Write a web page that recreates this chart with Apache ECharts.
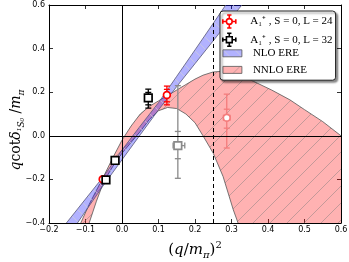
<!DOCTYPE html>
<html><head><meta charset="utf-8">
<script src="https://cdn.jsdelivr.net/npm/echarts@6/dist/echarts.min.js"></script>
<style>html,body{margin:0;padding:0;background:#fff}#c{width:349px;height:262px}</style>
</head><body><div id="c"></div>
<script>
// ---- axis ticks ----
const xTickValues = [-0.2,-0.1,0.0,0.1,0.2,0.3,0.4,0.5,0.6];
const xTickLabels = ['\u22120.2','\u22120.1','0.0','0.1','0.2','0.3','0.4','0.5','0.6'];
const yTickValues = [-0.4,-0.2,0.0,0.2,0.4,0.6];
const yTickLabels = ['\u22120.4','\u22120.2','0.0','0.2','0.4','0.6'];

// ---- NLO ERE band (blue) ----
const blueX  = [-0.2,-0.15,-0.1,-0.05,0,0.05,0.1,0.15,0.2,0.25,0.3,0.35];
const blueLo = [-0.590,-0.468,-0.346,-0.225,-0.110,0.005,0.119,0.226,0.331,0.436,0.541,0.645];
const blueHi = [-0.500,-0.395,-0.290,-0.185,-0.065,0.045,0.152,0.273,0.394,0.516,0.639,0.761];

// ---- NNLO ERE band (red) ----
const redBandX  = [-0.13,-0.113,-0.09,-0.07,-0.05,-0.025,0,0.025,0.05,0.075,0.1,0.125,0.15,0.175,0.2,0.222,0.25,0.277,0.305,0.318,0.33,0.36,0.41,0.46,0.5,0.55,0.6];
const redBandHi = [-0.47,-0.40,-0.315,-0.25,-0.185,-0.10,-0.02,0.045,0.10,0.135,0.16,0.185,0.21,0.235,0.26,0.278,0.293,0.296,0.287,0.281,0.274,0.25,0.21,0.165,0.12,0.065,0.0];
const redBandLo = [-0.6,-0.51,-0.40,-0.30,-0.21,-0.14,-0.08,-0.03,0.02,0.075,0.115,0.13,0.125,0.10,0.06,0.0,-0.08,-0.187,-0.34,-0.40,-0.47,-0.65,-0.95,-1.3,-1.6,-2.0,-2.4];

// ---- lattice points: A1+, L=24 (red) ----
const l24X    = [-0.053, 0.123];
const l24Y    = [-0.199, 0.187];
const l24XLo  = [-0.056, 0.118];
const l24XHi  = [-0.050, 0.128];
const l24YLo  = [-0.207, 0.142];
const l24YHi  = [-0.191, 0.228];
const l24YLoI = [-0.203, 0.156];
const l24YHiI = [-0.195, 0.213];
// faded L=24 point
const l24fX = [0.287], l24fY = [0.083], l24fXLo=[0.278], l24fXHi=[0.296];
const l24fYLo = [-0.056], l24fYHi = [0.191], l24fYLoI = [0.035], l24fYHiI = [0.122];

// ---- lattice points: A1+, L=32 (black) ----
const l32X    = [-0.044, -0.019, 0.072];
const l32Y    = [-0.202, -0.113, 0.174];
const l32XLo  = [-0.047, -0.022, 0.069];
const l32XHi  = [-0.041, -0.016, 0.075];
const l32YLo  = [-0.208, -0.119, 0.127];
const l32YHi  = [-0.196, -0.107, 0.214];
const l32YLoI = [-0.205, -0.116, 0.142];
const l32YHiI = [-0.199, -0.110, 0.199];
// faded L=32 point
const l32fX = [0.153], l32fY = [-0.045], l32fXLo=[0.140], l32fXHi=[0.172];
const l32fYLo = [-0.195], l32fYHi = [0.230], l32fYLoI = [-0.105], l32fYHiI = [0.020];

// ---- reference lines ----
const solidVX = [0.0];
const solidHY = [0.0];
const dashedVX = [0.25];

const S24 = 'A\u2081\u207A , S = 0, L = 24';
const S32 = 'A\u2081\u207A , S = 0, L = 32';

function makePattern(fill, hatch, dir, t) {
  const c = document.createElement('canvas'); c.width = t; c.height = t;
  const g = c.getContext('2d');
  g.fillStyle = fill; g.fillRect(0, 0, t, t);
  g.strokeStyle = hatch; g.lineWidth = 0.8; g.beginPath();
  if (dir > 0) {
    g.moveTo(-1, t + 1); g.lineTo(t + 1, -1);
    g.moveTo(-1, 1); g.lineTo(1, -1);
    g.moveTo(t - 1, t + 1); g.lineTo(t + 1, t - 1);
  } else {
    g.moveTo(-1, -1); g.lineTo(t + 1, t + 1);
    g.moveTo(t - 1, -1); g.lineTo(t + 1, 1);
    g.moveTo(-1, t - 1); g.lineTo(1, t + 1);
  }
  g.stroke();
  return { image: c, repeat: 'repeat' };
}
const redPat = makePattern('rgba(255,0,0,0.3)', 'rgba(120,120,120,0.55)', 1, 17);
const bluePat = makePattern('rgba(0,0,255,0.3)', 'rgba(210,210,210,0.8)', -1, 12);

function bandRender(xs, lo, hi, fill, edge) {
  return function (params, api) {
    if (params.dataIndex !== 0) return;
    const up = xs.map((x, i) => api.coord([x, hi[i]]));
    const dn = xs.map((x, i) => api.coord([x, lo[i]]));
    const poly = up.concat(dn.slice().reverse());
    return { type: 'group', children: [
      { type: 'polygon', shape: { points: poly }, style: { fill: fill, stroke: null } },
      { type: 'polyline', shape: { points: up }, style: { stroke: edge, lineWidth: 0.8, fill: null } },
      { type: 'polyline', shape: { points: dn }, style: { stroke: edge, lineWidth: 0.8, fill: null } }
    ]};
  };
}

function rows(x, y, xl, xh, yl, yh, yli, yhi) {
  return x.map((v, i) => [v, y[i], xl[i], xh[i], yl[i], yh[i], yli[i], yhi[i]]);
}

function errRender(color, shape, lw) {
  return function (params, api) {
    const x = api.value(0), y = api.value(1);
    const c = api.coord([x, y]);
    const pl = api.coord([api.value(2), y]), ph = api.coord([api.value(3), y]);
    const pyl = api.coord([x, api.value(4)]), pyh = api.coord([x, api.value(5)]);
    const pyli = api.coord([x, api.value(6)]), pyhi = api.coord([x, api.value(7)]);
    const cap = 3;
    const st = { stroke: color, lineWidth: lw, fill: null };
    const L = (x1, y1, x2, y2) => ({ type: 'line', shape: { x1, y1, x2, y2 }, style: st });
    const ch = [
      L(pyl[0], pyl[1], pyh[0], pyh[1]),
      L(pyl[0] - cap, pyl[1], pyl[0] + cap, pyl[1]),
      L(pyh[0] - cap, pyh[1], pyh[0] + cap, pyh[1]),
      L(pyli[0] - cap, pyli[1], pyli[0] + cap, pyli[1]),
      L(pyhi[0] - cap, pyhi[1], pyhi[0] + cap, pyhi[1]),
      L(pl[0], pl[1], ph[0], ph[1]),
      L(pl[0], pl[1] - cap, pl[0], pl[1] + cap),
      L(ph[0], ph[1] - cap, ph[0], ph[1] + cap)
    ];
    if (shape === 'circle') {
      ch.push({ type: 'circle', shape: { cx: c[0], cy: c[1], r: 3.4 }, style: { fill: '#fff', stroke: color, lineWidth: 1.7 } });
    } else {
      ch.push({ type: 'rect', shape: { x: c[0] - 3.8, y: c[1] - 3.8, width: 7.6, height: 7.6 }, style: { fill: '#fff', stroke: color, lineWidth: 1.7 } });
    }
    return { type: 'group', children: ch };
  };
}

const tickLabelX = v => { const i = xTickValues.findIndex(t => Math.abs(t - v) < 1e-6); return i >= 0 ? xTickLabels[i] : ''; };
const tickLabelY = v => { const i = yTickValues.findIndex(t => Math.abs(t - v) < 1e-6); return i >= 0 ? yTickLabels[i] : ''; };

const axCommon = {
  axisLine: { show: true, onZero: false, lineStyle: { color: '#000', width: 1 } },
  axisTick: { show: true, inside: true, length: 4, lineStyle: { color: '#000', width: 0.8 } },
  splitLine: { show: false }
};

const serif = 'DejaVu Serif';
const chart = echarts.init(document.getElementById('c'), null, { renderer: 'canvas' });
chart.setOption({
  animation: false,
  backgroundColor: '#fff',
  grid: { left: 49, right: 8, top: 5, bottom: 39, containLabel: false, outerBoundsMode: 'none' },
  xAxis: [
    Object.assign({ type: 'value', min: -0.2, max: 0.6, interval: 0.1, position: 'bottom',
      axisLabel: { formatter: tickLabelX, fontFamily: 'DejaVu Sans', fontSize: 8, color: '#000', margin: 3 },
      name: '{n|(}{i|q}{n|/}{i|m}{s|\u03C0}{n|)}{p|2}', nameLocation: 'middle', nameGap: 17,
      nameTextStyle: { color: '#000', rich: {
        n: { fontFamily: serif, fontSize: 15, lineHeight: 20, color: '#000' },
        i: { fontFamily: serif, fontStyle: 'italic', fontSize: 15, lineHeight: 20, color: '#000' },
        s: { fontFamily: serif, fontStyle: 'italic', fontSize: 10, lineHeight: 10, verticalAlign: 'bottom', color: '#000' },
        p: { fontFamily: serif, fontSize: 10, lineHeight: 10, verticalAlign: 'top', color: '#000' }
      } } }, axCommon),
    Object.assign({ type: 'value', min: -0.2, max: 0.6, interval: 0.1, position: 'top', axisLabel: { show: false } }, axCommon)
  ],
  yAxis: [
    Object.assign({ type: 'value', min: -0.4, max: 0.6, interval: 0.2, position: 'left',
      axisLabel: { formatter: tickLabelY, fontFamily: 'DejaVu Sans', fontSize: 8, color: '#000', margin: 4 } }, axCommon),
    Object.assign({ type: 'value', min: -0.4, max: 0.6, interval: 0.2, position: 'right', axisLabel: { show: false } }, axCommon)
  ],
  graphic: [
    { type: 'text', x: 16, y: 130, rotation: Math.PI / 2, silent: true,
      style: { text: '{i|q}{n|cot}{i|\u03B4}{s|\u00B9S\u2080}{n| /}{i|m}{s|\u03C0}', align: 'center', verticalAlign: 'middle',
        rich: {
          n: { fontFamily: serif, fontSize: 14, lineHeight: 20, fill: '#000' },
          i: { fontFamily: serif, fontStyle: 'italic', fontSize: 14, lineHeight: 20, fill: '#000' },
          s: { fontFamily: serif, fontStyle: 'italic', fontSize: 9, lineHeight: 10, verticalAlign: 'bottom', fill: '#000' }
        } } }
  ],
  legend: [
    { show: true, orient: 'vertical', left: 220, top: 11, itemWidth: 20, itemHeight: 13, itemGap: 3.6, zlevel: 1, z: 10,
      selectedMode: false, padding: [3.2, 3, 33.2, 2],
      backgroundColor: '#fff', borderColor: '#222', borderWidth: 1, borderRadius: 3,
      shadowBlur: 2, shadowOffsetX: 2, shadowOffsetY: 2, shadowColor: 'rgba(0,0,0,0.45)',
      textStyle: { fontFamily: 'Liberation Serif', fontSize: 11, lineHeight: 12, color: '#000', padding: [0, 0, 0, 6] },
      data: [
        { name: S24, icon: 'path://M10,1L10,6M10,14L10,19M7,1L13,1M7,19L13,19M1,10L6,10M14,10L19,10M1,7L1,13M19,7L19,13M14,10A4,4,0,1,0,6,10A4,4,0,1,0,14,10Z',
          itemStyle: { color: '#fff', borderColor: '#ff0000', borderWidth: 1.6 } },
        { name: S32, icon: 'path://M10,1L10,6M10,14L10,19M7,1L13,1M7,19L13,19M1,10L6,10M14,10L19,10M1,7L1,13M19,7L19,13M6,6L14,6L14,14L6,14Z',
          itemStyle: { color: '#fff', borderColor: '#000', borderWidth: 1.6 } }
      ] },
    { show: true, orient: 'vertical', left: 222.5, top: 47.3, itemWidth: 19, itemHeight: 7, itemGap: 4.6, zlevel: 1, z: 11,
      selectedMode: false, backgroundColor: 'transparent', padding: 0,
      textStyle: { fontFamily: 'Liberation Serif', fontSize: 11, lineHeight: 12, color: '#000', padding: [0, 0, 0, 6] },
      data: [
        { name: 'NLO ERE', icon: 'rect', itemStyle: { color: bluePat, borderColor: '#555', borderWidth: 0.8 } },
        { name: 'NNLO ERE', icon: 'rect', itemStyle: { color: redPat, borderColor: '#555', borderWidth: 0.8 } }
      ] }
  ],
  series: [
    { name: 'NNLO ERE', type: 'custom', clip: true, z: 1, data: redBandX.map((x, i) => [x, redBandLo[i], redBandHi[i]]),
      renderItem: bandRender(redBandX, redBandLo, redBandHi, redPat, '#555'), silent: true },
    { name: 'NLO ERE', type: 'custom', clip: true, z: 1.5, data: blueX.map((x, i) => [x, blueLo[i], blueHi[i]]),
      renderItem: bandRender(blueX, blueLo, blueHi, bluePat, '#55557a'), silent: true },
    { name: 'refLines', type: 'line', data: [], z: 3, silent: true,
      markLine: { symbol: 'none', silent: true, label: { show: false }, animation: false,
        data: solidVX.map(v => ({ xAxis: v, lineStyle: { color: '#000', width: 1, type: 'solid' } }))
          .concat(solidHY.map(v => ({ yAxis: v, lineStyle: { color: '#000', width: 1, type: 'solid' } })))
          .concat(dashedVX.map(v => ({ xAxis: v, lineStyle: { color: '#000', width: 1, type: [4, 3] } }))) } },
    { name: 'L24 faded', type: 'custom', z: 4, data: rows(l24fX, l24fY, l24fXLo, l24fXHi, l24fYLo, l24fYHi, l24fYLoI, l24fYHiI),
      renderItem: errRender('#f47c7c', 'circle', 1.3), silent: true },
    { name: 'L32 faded', type: 'custom', z: 4, data: rows(l32fX, l32fY, l32fXLo, l32fXHi, l32fYLo, l32fYHi, l32fYLoI, l32fYHiI),
      renderItem: errRender('#8a8a8a', 'rect', 1.3), silent: true },
    { name: S24, type: 'custom', z: 5, data: rows(l24X, l24Y, l24XLo, l24XHi, l24YLo, l24YHi, l24YLoI, l24YHiI),
      renderItem: errRender('#ff0000', 'circle', 1.3), silent: true },
    { name: S32, type: 'custom', z: 6, data: rows(l32X, l32Y, l32XLo, l32XHi, l32YLo, l32YHi, l32YLoI, l32YHiI),
      renderItem: errRender('#000000', 'rect', 1.3), silent: true }
  ]
});
</script></body></html>
